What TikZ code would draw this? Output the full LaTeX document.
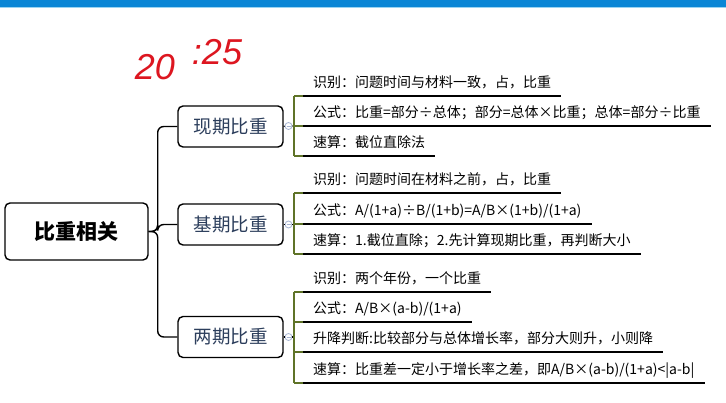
\documentclass[tikz,border=0pt]{standalone}
\usepackage{fontspec}
\setmainfont{Noto Sans CJK SC}
\setsansfont{Liberation Sans}
\definecolor{topblue}{HTML}{0A86D6}
\definecolor{toplight}{HTML}{9AD4F2}
\definecolor{penred}{HTML}{DD1620}
\definecolor{kidtext}{HTML}{2C3E5C}
\definecolor{olive}{HTML}{5F7328}
\definecolor{knob}{HTML}{A6B4D2}
\tikzset{
  rootbox/.style={draw=black, line width=1.4pt, rounded corners=5pt, minimum width=143pt, minimum height=57pt, inner sep=0pt, font=\fontsize{21}{24}\selectfont\bfseries},
  kidbox/.style={draw=black, line width=1.4pt, rounded corners=5pt, minimum width=105pt, minimum height=41pt, inner sep=0pt, text=kidtext, font=\fontsize{18.5}{21}\selectfont},
  conn/.style={draw=black, line width=1.4pt, rounded corners=6pt},
  knobc/.style={circle, draw=knob, fill=white, line width=0.8pt, minimum size=7pt, inner sep=0pt},
  brk/.style={draw=olive, line width=1.5pt},
  leaf/.style={anchor=south west, inner xsep=10pt, inner ysep=0pt, text depth=8pt, font=\fontsize{14}{16}\selectfont},
  uline/.style={draw=black, line width=1.3pt},
  pen/.style={text=penred, inner sep=0pt, font=\sffamily\itshape\fontsize{36}{38}\selectfont},
}
\begin{document}
\begin{tikzpicture}[x=1pt,y=-1pt]
\useasboundingbox (0,0) rectangle (726,403);
\fill[white] (0,0) rectangle (726,403);
% top bar
\fill[topblue] (0,0) rectangle (726,7.5);
\fill[toplight] (0,7.5) rectangle (726,8.5);
% handwritten time
\node[pen] (hw1) at (155,67) {20};
\node[pen] (hw2) at (217,52) {:25};
% root
\node[rootbox] (root) at (76.5,231.5) {比重相关};
% children
\node[kidbox] (k1) at (230.5,126.5) {现期比重};
\node[kidbox] (k2) at (230.5,224.5) {基期比重};
\node[kidbox] (k3) at (230.5,337) {两期比重};
\draw[conn] (root.east) -- ++(9,0) |- (k1.west);
\draw[conn] (root.east) -- ++(9,0) |- (k2.west);
\draw[conn] (root.east) -- ++(9,0) |- (k3.west);
% knobs
\node[knobc] (n1) at (288.5,126) {};
\node[knobc] (n2) at (288.5,224.5) {};
\node[knobc] (n3) at (288.5,337) {};
\foreach \n in {n1,n2,n3}{\draw[knob, line width=0.7pt] ([xshift=-2pt]\n.center) -- ([xshift=2pt]\n.center);}
\coordinate (b1) at (294,126);
\coordinate (b2) at (294,224.5);
\coordinate (b3) at (294,337);
\draw[black, line width=1.2pt] (k1.east) -- (n1.west) (n1.east) -- (b1);
\draw[black, line width=1.2pt] (k2.east) -- (n2.west) (n2.east) -- (b2);
\draw[black, line width=1.2pt] (k3.east) -- (n3.west) (n3.east) -- (b3);
% leaves group 1
\node[leaf] (a1) at (303,96) {识别：问题时间与材料一致，占，比重};
\node[leaf] (a2) at (303,126) {公式：比重=部分÷总体；部分=总体×比重；总体=部分÷比重};
\node[leaf] (a3) at (303,156) {速算：截位直除法};
% leaves group 2
\node[leaf] (c1) at (303,193) {识别：问题时间在材料之前，占，比重};
\node[leaf] (c2) at (303,224) {公式：A/(1+a)÷B/(1+b)=A/B×(1+b)/(1+a)};
\node[leaf] (c3) at (303,254) {速算：1.截位直除；2.先计算现期比重，再判断大小};
% leaves group 3
\node[leaf] (d1) at (303,292) {识别：两个年份，一个比重};
\node[leaf] (d2) at (303,322) {公式：A/B×(a-b)/(1+a)};
\node[leaf] (d3) at (303,352) {升降判断:比较部分与总体增长率，部分大则升，小则降};
\node[leaf] (d4) at (303,383) {速算：比重差一定小于增长率之差，即A/B×(a-b)/(1+a)<|a-b|};
% brackets
\draw[brk] (a1.south west -| b1) -- (a3.south west -| b1);
\draw[brk] (c1.south west -| b2) -- (c3.south west -| b2);
\draw[brk] (d1.south west -| b3) -- (d4.south west -| b3);
\foreach \l in {a1,a2,a3}{\draw[brk] (\l.south west -| b1) -- (\l.south west); \draw[uline] (\l.south west) -- (\l.south east);}
\foreach \l in {c1,c2,c3}{\draw[brk] (\l.south west -| b2) -- (\l.south west); \draw[uline] (\l.south west) -- (\l.south east);}
\foreach \l in {d1,d2,d3,d4}{\draw[brk] (\l.south west -| b3) -- (\l.south west); \draw[uline] (\l.south west) -- (\l.south east);}
\end{tikzpicture}
\end{document}
